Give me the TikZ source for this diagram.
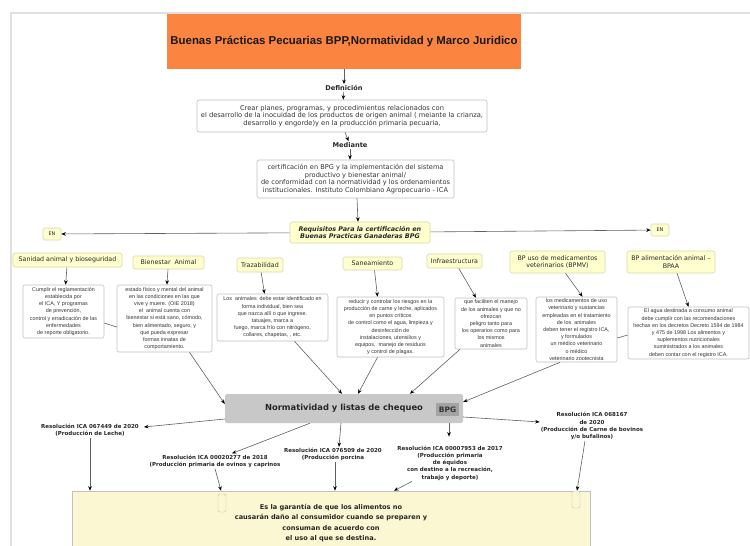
\documentclass[tikz,border=0pt]{standalone}
\usepackage{fontspec}
\setmainfont{DejaVu Sans}[BoldFont={DejaVu Sans Bold},ItalicFont={DejaVu Sans Oblique},BoldItalicFont={DejaVu Sans Bold Oblique}]
\newfontfamily\arialfont{Liberation Sans}
\usetikzlibrary{arrows.meta}
\definecolor{naranja}{RGB}{251,132,64}
\definecolor{amarillo}{RGB}{255,255,206}
\definecolor{bordeamarillo}{RGB}{214,214,168}
\definecolor{crema}{RGB}{250,247,210}
\definecolor{grisnorma}{RGB}{200,200,200}
\definecolor{grisbpg}{RGB}{163,163,163}
\definecolor{linea}{RGB}{95,95,95}
\definecolor{bordegris}{RGB}{192,192,192}
\definecolor{marco}{RGB}{224,224,224}
\tikzset{
  titulo/.style = {fill=naranja, inner sep=2pt, font=\arialfont\bfseries\fontsize{11.4}{13}\selectfont, text=black!90},
  concepto/.style = {draw=bordeamarillo, fill=amarillo, rounded corners=1.5pt, line width=0.6pt, inner sep=1pt, align=center, font=\fontsize{6.3}{7.6}\selectfont, text=black!85},
  detalle/.style = {draw=bordegris, fill=white, rounded corners=2pt, line width=0.6pt, inner sep=1pt, align=center, font=\arialfont\fontsize{5.4}{7.2}\selectfont, text=black!80},
  enlace/.style = {inner sep=1pt, align=center, font=\bfseries\fontsize{5.5}{7.2}\selectfont, text=black!85},
  flecha/.style = {draw=linea, line width=0.6pt, -{Stealth[length=4.5pt, width=3.6pt, color=black]}},
  conector/.style = {draw=linea, line width=0.6pt}
}
\begin{document}
\begin{tikzpicture}[x=1pt, y=-1pt]
  \useasboundingbox (0,0) rectangle (750,546);
  \draw [marco, line width=1.3pt] (11,546) -- (11,13) -- (750,13);

  \node [titulo, minimum width=354pt, minimum height=55pt] (titulo) at (344,41.5) {Buenas Prácticas Pecuarias BPP,Normatividad y Marco Juridico};
  \node [enlace, font=\bfseries\fontsize{6.6}{7}\selectfont] (definicion) at (344,88) {Definición};
  \node [detalle, font=\fontsize{6.7}{7.5}\selectfont, minimum width=290pt, minimum height=32pt] (crear) at (342,116) {Crear planes, programas, y procedimientos relacionados con\\el desarrollo de la inocuidad de los productos de origen animal ( meiante la crianza,\\desarrollo y engorde)y en la producción primaria pecuaria,};
  \node [enlace, font=\bfseries\fontsize{6.6}{7}\selectfont] (mediante) at (350,145) {Mediante};
  \node [detalle, font=\fontsize{6.6}{7.5}\selectfont, minimum width=197pt, minimum height=38pt] (certificacion) at (355.5,179) {certificación en BPG y la implementación del sistema\\productivo y bienestar animal/\\de conformidad con la normatividad y los ordenamientos\\institucionales. Instituto Colombiano Agropecuario - ICA};
  \node [concepto, font=\bfseries\itshape\fontsize{6.4}{7.6}\selectfont, minimum width=140pt, minimum height=21pt] (requisitos) at (360,232.5) {Requisitos Para la certificación en\\Buenas Practicas Ganaderas BPG};
  \node [concepto, font=\fontsize{5}{6}\selectfont, minimum width=18pt, minimum height=12pt] (enIzq) at (52,234) {EN};
  \node [concepto, font=\fontsize{5}{6}\selectfont, minimum width=18pt, minimum height=12pt] (enDer) at (660,230) {EN};

  \node [concepto, minimum width=109pt, minimum height=14pt] (sanidad) at (67.5,260) {Sanidad animal y bioseguridad};
  \node [concepto, minimum width=71pt, minimum height=13pt] (bienestar) at (168.5,262.5) {Bienestar\ \ Animal};
  \node [concepto, minimum width=46pt, minimum height=14pt] (trazabilidad) at (260,265) {Trazabilidad};
  \node [concepto, minimum width=59pt, minimum height=13pt] (saneamiento) at (372.5,263.5) {Saneamiento};
  \node [concepto, minimum width=55pt, minimum height=14pt] (infraestructura) at (454.5,261) {Infraestructura};
  \node [concepto, minimum width=95pt, minimum height=22pt] (bpmv) at (557.5,262) {BP uso de medicamentos\\veterinarios (BPMV)};
  \node [concepto, minimum width=88pt, minimum height=22pt] (bpaa) at (671,262) {BP alimentación animal –\\BPAA};

  \node [detalle, minimum width=81pt, minimum height=53pt] (cumplir) at (63.5,311.5) {Cumplir el reglamentación\\establecida por\\el ICA, Y programas\\de prevención,\\control y erradicación de las\\enfermedades\\de reporte obligatorio.};
  \node [detalle, minimum width=95pt, minimum height=67pt] (estado) at (164.5,318.5) {estado físico y mental del animal\\en las condiciones en las que\\vive y muere. (OIE 2018)\\el\ \ animal cuenta con\\bienestar si está sano, cómodo,\\bien alimentado, seguro, y\\que pueda expresar\\formas innatas de\\comportamiento.};
  \node [detalle, minimum width=111pt, minimum height=47pt] (animales) at (272.5,317.5) {Los\ \ animales\ \ debe estar identificado en\\forma individual, bien sea\\que nazca allí o que ingrese.\\tatuajes, marca a\\fuego, marca frío con nitrógeno,\\collares, chapetas, , etc.};
  \node [detalle, minimum width=107pt, minimum height=60pt] (reducir) at (390.5,327) {reducir y controlar los riesgos en la\\producción de carne y leche, aplicados\\en puntos críticos\\de control como el agua, limpieza y\\desinfección de\\instalaciones, utensilios y\\equipos,\ \ manejo de residuos\\y control de plagas.};
  \node [detalle, minimum width=72pt, minimum height=51pt] (faciliten) at (491,323.5) {que faciliten el manejo\\de los animales y que no\\ofrezcan\\peligro tanto para\\los operarios como para\\los mismos\\animales};
  \node [detalle, minimum width=81pt, minimum height=65pt] (medicamentos) at (576.5,329.5) {los medicamentos de uso\\veterinario y sustancias\\empleadas en el tratamiento\\de los\ \ animales\\deben tener el registro ICA,\\y formulados\\un médico veterinario\\o médico\\veterinario zootecnista};
  \node [detalle, minimum width=121pt, minimum height=52pt] (agua) at (688.5,333) {El agua destinada a consumo animal\\debe cumplir con las recomendaciones\\hechas en los decretos Decreto 1594 de 1984\\y 475 de 1998 Los alimentos y\\suplementos nutricionales\\suministrados a los animales\\deben contar con el registro ICA.};

  \node [fill=grisnorma, rounded corners=2pt, minimum width=238pt, minimum height=29pt, font=\bfseries\fontsize{8.35}{9}\selectfont, text=black!85] (normatividad) at (344,408.5) {Normatividad y listas de chequeo};
  \node [fill=grisbpg, minimum width=23pt, minimum height=13pt, inner sep=1pt, font=\bfseries\fontsize{7.5}{8}\selectfont, text=black!80] (bpg) at (447.5,409.5) {BPG};

  \node [enlace] (res067449) at (90,430.5) {Resolución ICA 067449 de 2020\\(Producción de Leche)};
  \node [enlace] (res00020277) at (215,461) {Resolución ICA 00020277 de 2018\\(Producción primaria de ovinos y caprinos};
  \node [enlace] (res076509) at (333,454.5) {Resolución ICA 076509 de 2020\\(Producción porcina};
  \node [enlace] (res00007953) at (450,463) {Resolución ICA 00007953 de 2017\\(Producción primaria\\de équidos\\con destino a la recreación,\\trabajo y deporte)};
  \node [enlace] (res068167) at (592,426) {Resolución ICA 068167\\de 2020\\(Producción de Carne de bovinos\\y/o bufalinos)};

  \node [draw=bordegris, fill=crema, line width=0.6pt, minimum width=518pt, minimum height=64pt, align=center, font=\bfseries\fontsize{6.6}{10.5}\selectfont, text=black!85] (garantia) at (331,523) {Es la garantía de que los alimentos no\\causarán daño al consumidor cuando se preparen y\\consuman de acuerdo con\\el uso al que se destina.};
  \draw [bordegris, fill=crema, rounded corners=1.5pt] (218,494) rectangle (226,512);
  \draw [bordegris, fill=crema, rounded corners=1.5pt] (572,491) rectangle (580,508);

  \draw [flecha] (titulo) -- (definicion);
  \draw [flecha] (definicion) -- (crear);
  \draw [flecha] ([xshift=3pt]crear.south) -- (mediante);
  \draw [flecha] (mediante) -- (mediante |- certificacion.north);
  \draw [flecha] ([xshift=1.5pt]certificacion.south) -- ([xshift=-2pt]requisitos.north);
  \draw [flecha] (requisitos) -- (enIzq);
  \draw [flecha] (requisitos) -- (enDer);

  \draw [flecha] (sanidad) -- (cumplir);
  \draw [flecha] (bienestar) -- (estado);
  \draw [flecha] (trazabilidad) -- ([xshift=-8pt]animales.north);
  \draw [flecha] ([xshift=2pt]saneamiento.south) -- ([xshift=-13pt]reducir.north);
  \draw [flecha] (infraestructura) -- (faciliten);
  \draw [flecha] ([xshift=8pt]bpmv.south) -- ([xshift=6pt]medicamentos.north);
  \draw [flecha] ([xshift=6pt]bpaa.south) -- (agua.north);

  \draw [conector] ([yshift=-11.5pt]cumplir.east) -- ([yshift=-8.5pt]estado.west);
  \draw [conector] ([yshift=-2pt]agua.west) -- ([yshift=-8.5pt]medicamentos.east);
  \draw [flecha] ([xshift=25pt]estado.south) -- ([yshift=4.5pt]normatividad.west);
  \draw [flecha] ([xshift=22pt]animales.south) -- ([xshift=-2pt]normatividad.north);
  \draw [flecha] ([xshift=-13pt]reducir.south) -- ([xshift=14pt]normatividad.north);
  \draw [flecha] ([xshift=-31pt]faciliten.south) -- ([xshift=66pt]normatividad.north);
  \draw [flecha] ([xshift=-16.5pt]medicamentos.south) -- ([yshift=6.5pt]normatividad.east);

  \draw [flecha] ([yshift=-10.5pt]normatividad.west) -- ([xshift=4pt, yshift=3.5pt]res067449.east);
  \draw [flecha] ([xshift=-34pt]normatividad.south) -- ([xshift=17pt]res00020277.north);
  \draw [flecha] ([xshift=-3pt]normatividad.south) -- ([xshift=6pt]res076509.north);
  \draw [flecha] ([xshift=105pt]normatividad.south) -- ([xshift=-1pt, yshift=8pt]res00007953.north);
  \draw [flecha] ([yshift=-8.5pt]normatividad.east) -- ([yshift=4pt]res068167.west);

  \draw [flecha] (res067449.south) -- (res067449.south |- garantia.north);
  \draw [flecha] (res00020277.south) -- ([xshift=-110pt]garantia.north);
  \draw [flecha] ([xshift=2pt]res076509.south) -- ([xshift=4pt]garantia.north);
  \draw [flecha] ([xshift=-38pt]res00007953.south) -- ([xshift=63pt]garantia.north);
  \draw [flecha] ([xshift=-7pt]res068167.south) -- ([xshift=246pt]garantia.north);
\end{tikzpicture}
\end{document}
